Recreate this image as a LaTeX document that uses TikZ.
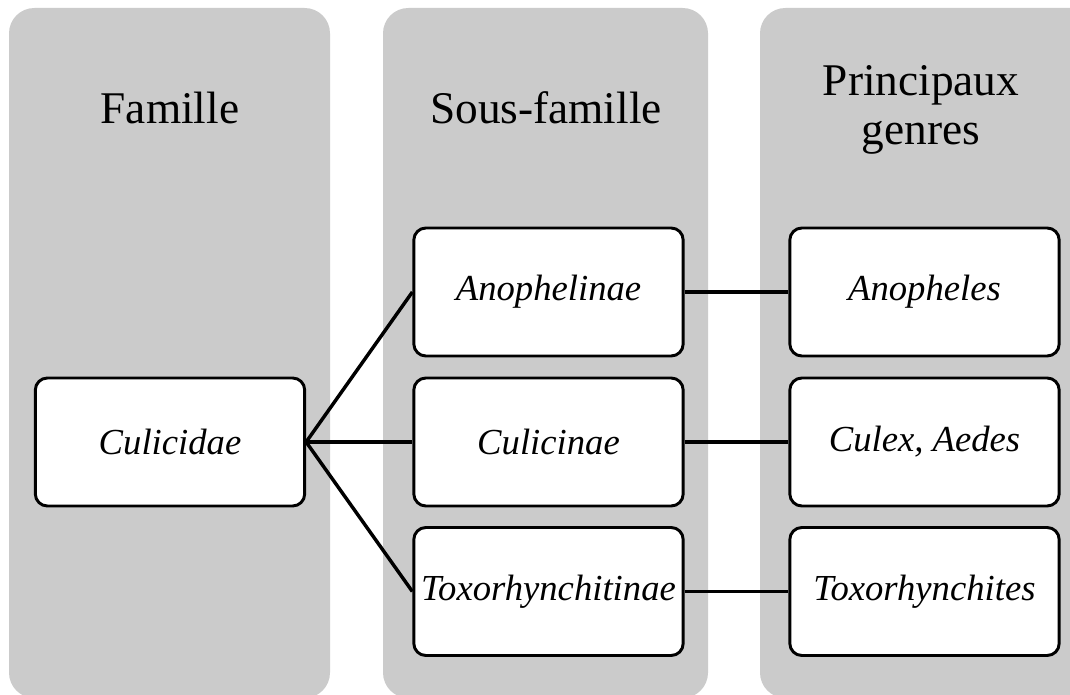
\documentclass[tikz,border=0pt]{standalone}
\usepackage{fontspec}
\setmainfont{Liberation Serif}
\definecolor{colbg}{RGB}{203,203,203}
\begin{document}
\begin{tikzpicture}[x=0.75pt,y=-0.75pt,
  column/.style={fill=colbg,rounded corners=19pt},
  taxbox/.style={draw=black,fill=white,line width=2.2pt,rounded corners=9pt,
    minimum width=202pt,minimum height=96pt,inner sep=0pt,font=\fontsize{27.5}{32}\selectfont\itshape},
  head/.style={font=\fontsize{34}{37}\selectfont,align=center},
  link/.style={line width=2.6pt}]
\useasboundingbox (0,0) rectangle (1070,695);
\clip (0,0) rectangle (1070,695);
\fill[column] (9,8) rectangle (330,698);
\fill[column] (383,8) rectangle (708,698);
\fill[column] (760,8) rectangle (1100,698);
\node[head] (h1) at (170,108) {Famille};
\node[head] (h2) at (546,108) {Sous-famille};
\node[head] (h3) at (921,110) {Principaux\\genres};
\node[taxbox] (culicidae) at (170,442) {Culicidae};
\node[taxbox] (anophelinae) at (548.5,292) {Anophelinae};
\node[taxbox] (culicinae) at (548.5,442) {Culicinae};
\node[taxbox] (toxorhynchitinae) at (548.5,591.5) {Toxorhynchitinae};
\node[taxbox] (anopheles) at (924.5,292) {Anopheles};
\node[taxbox] (culex) at (924.5,442) {Culex, Aedes};
\node[taxbox] (toxorhynchites) at (924.5,591.5) {Toxorhynchites};
\draw[link] (culicidae.east) -- (anophelinae.west);
\draw[link] (culicidae.east) -- (culicinae.west);
\draw[link] (culicidae.east) -- (toxorhynchitinae.west);
\draw[link] (anophelinae.east) -- (anopheles.west);
\draw[link] (culicinae.east) -- (culex.west);
\draw[link] (toxorhynchitinae.east) -- (toxorhynchites.west);
\end{tikzpicture}
\end{document}
